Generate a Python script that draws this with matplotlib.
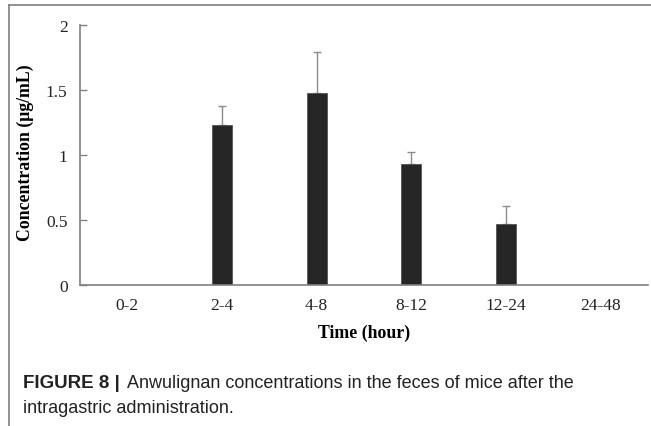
import numpy as np
import matplotlib
matplotlib.use('Agg')
import matplotlib.pyplot as plt

categories = ['0-2', '2-4', '4-8', '8-12', '12-24', '24-48']
conc = [0, 1.23, 1.48, 0.93, 0.47, 0]
err = [0, 0.15, 0.31, 0.095, 0.135, 0]

W, H = 651, 427
fig = plt.figure(figsize=(W / 100, H / 100), dpi=100)

# frame lines around the figure panel
fig.add_artist(plt.Line2D([9 / W, 1], [1 - 6 / H, 1 - 6 / H], color='#7f7f7f', lw=1.2))
fig.add_artist(plt.Line2D([9 / W, 9 / W], [0, 1 - 6 / H], color='#7f7f7f', lw=1.2))

ax = fig.add_axes([80 / W, 1 - 286 / H, 568 / W, 260 / H])
x = np.arange(len(categories))
has = np.array(conc) > 0
ax.bar(x[has], np.array(conc)[has], width=0.21, color='#262626', edgecolor='#555555', lw=0.6, zorder=2)
ax.errorbar(x[has], np.array(conc)[has], yerr=[np.zeros(has.sum()), np.array(err)[has]],
            fmt='none', ecolor='#8c8c8c', elinewidth=1.0, capsize=3, capthick=1.0, zorder=1)

ax.set_xlim(-0.5, 5.5)
ax.set_ylim(0, 2)
ax.set_yticks([0, 0.5, 1, 1.5, 2])
ax.set_yticklabels(['0', '0.5', '1', '1.5', '2'])
ax.set_xticks(x)
ax.set_xticklabels(categories)

for s in ['top', 'right']:
    ax.spines[s].set_visible(False)
for s in ['left', 'bottom']:
    ax.spines[s].set_color('#808080')
    ax.spines[s].set_linewidth(1.2)

ax.tick_params(axis='y', direction='in', length=5, color='#808080', width=1.0, pad=9)
ax.tick_params(axis='x', length=0, pad=9)
for lab in ax.get_xticklabels() + ax.get_yticklabels():
    lab.set_fontfamily('Liberation Serif')
    lab.set_fontsize(12.5)
    lab.set_color('#222222')

ax.set_xlabel('Time (hour)', fontfamily='Liberation Serif', fontweight='bold', fontsize=12.8)
ax.xaxis.set_label_coords(0.5, -(333 - 286) / 260, transform=ax.transAxes)
ax.xaxis.label.set_va('center')
ax.set_ylabel('Concentration (μg/mL)', fontfamily='Liberation Serif', fontweight='bold', fontsize=12.8)
ax.yaxis.set_label_coords(-(80 - 25) / 568, (286 - 153) / 260)
ax.yaxis.label.set_va('center')

fig.text(23 / W, 1 - 384 / H, 'FIGURE 8 |', fontfamily='Liberation Sans', fontweight='bold',
         fontsize=13.5, va='center', color='#222222')
fig.text(127 / W, 1 - 384 / H, 'Anwulignan concentrations in the feces of mice after the',
         fontfamily='Liberation Sans', fontsize=13, va='center', color='#222222')
fig.text(23 / W, 1 - 409 / H, 'intragastric administration.',
         fontfamily='Liberation Sans', fontsize=13, va='center', color='#222222')

fig.savefig('out.png', dpi=100)
